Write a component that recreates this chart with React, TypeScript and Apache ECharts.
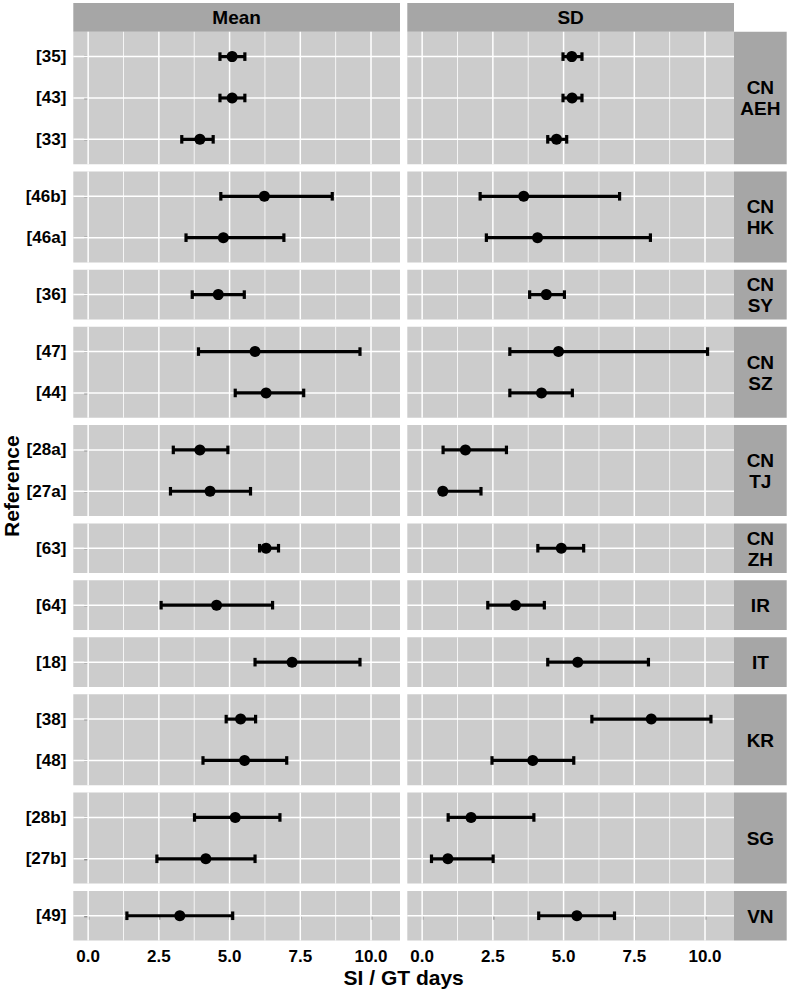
import React, { useEffect, useRef } from "react";
import * as echarts from "echarts";

// ---------- data ----------
const facets = ["CN\nAEH", "CN\nHK", "CN\nSY", "CN\nSZ", "CN\nTJ", "CN\nZH", "IR", "IT", "KR", "SG", "VN"];
const columns = ["Mean", "SD"];

// references listed top-to-bottom inside each facet
const references = ["[35]", "[43]", "[33]", "[46b]", "[46a]", "[36]", "[47]", "[44]", "[28a]", "[27a]", "[63]", "[64]", "[18]", "[38]", "[48]", "[28b]", "[27b]", "[49]"];
const referenceFacet = [0, 0, 0, 1, 1, 2, 3, 3, 4, 4, 5, 6, 7, 8, 8, 9, 9, 10];

const meanEst = [5.09, 5.09, 3.95, 6.23, 4.78, 4.6, 5.9, 6.29, 3.95, 4.31, 6.29, 4.54, 7.21, 5.39, 5.53, 5.2, 4.16, 3.24];
const meanLow = [4.66, 4.66, 3.31, 4.69, 3.46, 3.68, 3.9, 5.2, 3.01, 2.91, 6.06, 2.58, 5.9, 4.88, 4.06, 3.76, 2.43, 1.37];
const meanHigh = [5.54, 5.54, 4.42, 8.63, 6.92, 5.52, 9.61, 7.62, 4.94, 5.74, 6.73, 6.52, 9.61, 5.92, 7.02, 6.78, 5.9, 5.11];

const sdEst = [5.29, 5.3, 4.75, 3.59, 4.08, 4.39, 4.82, 4.22, 1.53, 0.73, 4.92, 3.3, 5.5, 8.1, 3.91, 1.73, 0.91, 5.47];
const sdLow = [4.98, 4.98, 4.44, 2.05, 2.27, 3.8, 3.1, 3.1, 0.74, 0.73, 4.09, 2.32, 4.44, 6.0, 2.47, 0.92, 0.33, 4.12];
const sdHigh = [5.65, 5.65, 5.11, 6.98, 8.07, 5.03, 10.09, 5.31, 2.98, 2.08, 5.71, 4.32, 8.0, 10.21, 5.36, 3.95, 2.51, 6.8];

const xMajor = [0, 2.5, 5, 7.5, 10];
const xMinor = [1.25, 3.75, 6.25, 8.75];

// ---------- layout / style ----------
const X_MIN = -0.525;
const X_MAX = 11.025;
const PANEL_LEFT = [73.3, 407.3];
const PANEL_W = 326.7;
const PANEL_TOP0 = 31.8;
const UNIT = 41.36;
const GAP = 7.33;
const STRIP_X = 734;
const STRIP_W = 52.7;
const PANEL_BG = "#CCCCCC";
const STRIP_BG = "#A6A6A6";
const FONT = "'Liberation Sans', Arial, Helvetica, sans-serif";

function buildOption() {
  const grids: any[] = [];
  const xAxes: any[] = [];
  const yAxes: any[] = [];
  const series: any[] = [];
  const graphics: any[] = [];
  const colEst = [meanEst, sdEst];
  const colLow = [meanLow, sdLow];
  const colHigh = [meanHigh, sdHigh];

  // top strips
  columns.forEach((name, c) => {
    graphics.push({
      type: "rect",
      silent: true,
      shape: { x: PANEL_LEFT[c], y: 3, width: PANEL_W, height: PANEL_TOP0 - 3 },
      style: { fill: STRIP_BG },
    });
    graphics.push({
      type: "text",
      silent: true,
      x: PANEL_LEFT[c] + PANEL_W / 2,
      y: (3 + PANEL_TOP0) / 2 + 0.5,
      style: {
        text: name,
        align: "center",
        verticalAlign: "middle",
        fontSize: 19,
        fontWeight: "bold",
        fontFamily: FONT,
        fill: "#000",
      },
    });
  });

  let top = PANEL_TOP0;
  facets.forEach((facet, f) => {
    const idx = references.map((_, i) => i).filter((i) => referenceFacet[i] === f);
    const n = idx.length;
    const h = (n + 0.2) * UNIT;
    const labels = idx.map((i) => references[i]);
    const positions = labels.map((_, k) => k);
    const bottomRow = f === facets.length - 1;

    for (let c = 0; c < 2; c++) {
      const g = grids.length;
      grids.push({
        left: PANEL_LEFT[c],
        top: top,
        width: PANEL_W,
        height: h,
        show: true,
        backgroundColor: PANEL_BG,
        borderWidth: 0,
      });
      xAxes.push({
        type: "value",
        gridIndex: g,
        min: X_MIN,
        max: X_MAX,
        axisLine: { show: false },
        splitLine: { show: false },
        axisTick: {
          show: bottomRow,
          customValues: xMajor,
          length: 4,
          lineStyle: { color: "#222", width: 1.3 },
        },
        axisLabel: {
          show: bottomRow,
          customValues: xMajor,
          formatter: (v: number) => Number(v).toFixed(1),
          margin: 7,
          color: "#000",
          fontSize: 17,
          fontWeight: "bold",
          fontFamily: FONT,
        },
      });
      yAxes.push({
        type: "value",
        gridIndex: g,
        inverse: true,
        min: -0.6,
        max: n - 0.4,
        axisLine: { show: false },
        splitLine: { show: false },
        axisTick: {
          show: c === 0,
          customValues: positions,
          length: 4,
          lineStyle: { color: "#222", width: 1.3 },
        },
        axisLabel: {
          show: c === 0,
          customValues: positions,
          formatter: (v: number) => labels[Math.round(v)] ?? "",
          margin: 7,
          color: "#000",
          fontSize: 17,
          fontWeight: "bold",
          fontFamily: FONT,
        },
      });

      // panel grid lines
      series.push({
        type: "custom",
        xAxisIndex: g,
        yAxisIndex: g,
        silent: true,
        z: 1,
        data: [[0, 0]],
        encode: { x: 0, y: 1 },
        renderItem: (params: any, api: any) => {
          const cs = params.coordSys;
          const children: any[] = [];
          xMinor.forEach((v) => {
            const x = api.coord([v, 0])[0];
            children.push({
              type: "line",
              shape: { x1: x, y1: cs.y, x2: x, y2: cs.y + cs.height },
              style: { stroke: "#FFFFFF", lineWidth: 0.8 },
            });
          });
          xMajor.forEach((v) => {
            const x = api.coord([v, 0])[0];
            children.push({
              type: "line",
              shape: { x1: x, y1: cs.y, x2: x, y2: cs.y + cs.height },
              style: { stroke: "#FFFFFF", lineWidth: 1.5 },
            });
          });
          positions.forEach((k) => {
            const y = api.coord([0, k])[1];
            children.push({
              type: "line",
              shape: { x1: cs.x, y1: y, x2: cs.x + cs.width, y2: y },
              style: { stroke: "#FFFFFF", lineWidth: 1.5 },
            });
          });
          return { type: "group", children };
        },
      });

      // error bars
      series.push({
        type: "custom",
        xAxisIndex: g,
        yAxisIndex: g,
        silent: true,
        z: 2,
        data: idx.map((i, k) => [colLow[c][i], colHigh[c][i], k]),
        encode: { x: [0, 1], y: 2 },
        renderItem: (params: any, api: any) => {
          const lo = api.coord([api.value(0), api.value(2)]);
          const hi = api.coord([api.value(1), api.value(2)]);
          const cap = 4.3;
          const st = { stroke: "#000", lineWidth: 3.2 };
          return {
            type: "group",
            children: [
              { type: "line", shape: { x1: lo[0], y1: lo[1], x2: hi[0], y2: hi[1] }, style: st },
              { type: "line", shape: { x1: lo[0], y1: lo[1] - cap, x2: lo[0], y2: lo[1] + cap }, style: st },
              { type: "line", shape: { x1: hi[0], y1: hi[1] - cap, x2: hi[0], y2: hi[1] + cap }, style: st },
            ],
          };
        },
      });

      // point estimates
      series.push({
        type: "scatter",
        xAxisIndex: g,
        yAxisIndex: g,
        silent: true,
        z: 3,
        symbol: "circle",
        symbolSize: 11,
        itemStyle: { color: "#000", opacity: 1 },
        data: idx.map((i, k) => [colEst[c][i], k]),
      });
    }

    // right strip
    graphics.push({
      type: "rect",
      silent: true,
      shape: { x: STRIP_X, y: top, width: STRIP_W, height: h },
      style: { fill: STRIP_BG },
    });
    graphics.push({
      type: "text",
      silent: true,
      x: STRIP_X + STRIP_W / 2,
      y: top + h / 2 + 0.5,
      style: {
        text: facet,
        align: "center",
        verticalAlign: "middle",
        lineHeight: 21,
        fontSize: 19,
        fontWeight: "bold",
        fontFamily: FONT,
        fill: "#000",
      },
    });

    top += h + GAP;
  });

  const panelsBottom = top - GAP;

  // axis titles
  graphics.push({
    type: "text",
    silent: true,
    x: (PANEL_LEFT[0] + PANEL_LEFT[1] + PANEL_W) / 2,
    y: panelsBottom + 37,
    style: {
      text: "SI / GT days",
      align: "center",
      verticalAlign: "middle",
      fontSize: 21,
      fontWeight: "bold",
      fontFamily: FONT,
      fill: "#000",
    },
  });
  graphics.push({
    type: "text",
    silent: true,
    x: 11,
    y: (PANEL_TOP0 + panelsBottom) / 2,
    rotation: Math.PI / 2,
    style: {
      text: "Reference",
      align: "center",
      verticalAlign: "middle",
      fontSize: 21,
      fontWeight: "bold",
      fontFamily: FONT,
      fill: "#000",
    },
  });

  return {
    animation: false,
    backgroundColor: "#FFFFFF",
    grid: grids,
    xAxis: xAxes,
    yAxis: yAxes,
    series,
    graphic: { elements: graphics },
  };
}

export default function App() {
  const ref = useRef<HTMLDivElement>(null);
  useEffect(() => {
    if (!ref.current) return;
    const chart = echarts.init(ref.current, null, { renderer: "svg" });
    chart.setOption(buildOption());
    return () => chart.dispose();
  }, []);
  return (
    <div
      ref={ref}
      style={{ position: "fixed", left: 0, top: 0, width: 789, height: 989 }}
    />
  );
}
